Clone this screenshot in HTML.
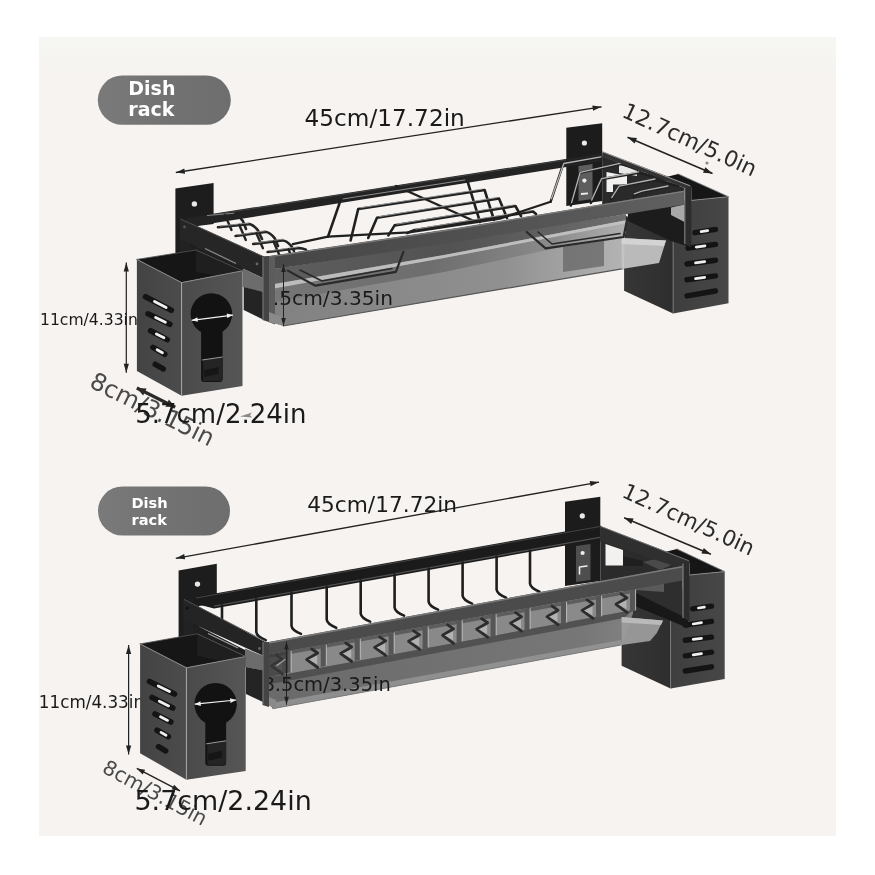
<!DOCTYPE html>
<html lang="en"><head><meta charset="utf-8"><title>Dish rack dimensions</title>
<style>
html,body{margin:0;padding:0;background:#fff;}
body{width:875px;height:875px;overflow:hidden;}
svg{display:block;will-change:transform;transform:translateZ(0);}
text{font-family:"DejaVu Sans","Liberation Sans",sans-serif;}
.b{font-family:"DejaVu Sans","Liberation Sans",sans-serif;font-weight:700;fill:#fff;}
</style></head><body>
<svg width="875" height="875" viewBox="0 0 875 875">
<defs>
<linearGradient id="gPanel" x1="0" y1="0" x2="0" y2="1"><stop offset="0" stop-color="#f6f7f2"/><stop offset="0.05" stop-color="#f6f3f1"/><stop offset="1" stop-color="#f6f3f1"/></linearGradient>
<linearGradient id="gPill" x1="0" y1="0" x2="1" y2="0"><stop offset="0" stop-color="#7a7a7a"/><stop offset="0.45" stop-color="#737373"/><stop offset="1" stop-color="#6e6e6e"/></linearGradient>
<linearGradient id="gLeft" x1="0" y1="0" x2="1" y2="0"><stop offset="0" stop-color="#434343"/><stop offset="1" stop-color="#4c4c4c"/></linearGradient>
<linearGradient id="gFront" x1="0" y1="0" x2="1" y2="0"><stop offset="0" stop-color="#4a4a4a"/><stop offset="1" stop-color="#565656"/></linearGradient>
<linearGradient id="gRF" x1="0" y1="0" x2="1" y2="0"><stop offset="0" stop-color="#363636"/><stop offset="1" stop-color="#2e2e2e"/></linearGradient>
<linearGradient id="gRR" x1="0" y1="0" x2="1" y2="0"><stop offset="0" stop-color="#3e3e3e"/><stop offset="1" stop-color="#474747"/></linearGradient>
<linearGradient id="gRail" x1="0" y1="0" x2="0" y2="1"><stop offset="0" stop-color="#6a6a6a"/><stop offset="0.25" stop-color="#444"/><stop offset="1" stop-color="#383838"/></linearGradient>
</defs>
<rect width="875" height="875" fill="#ffffff"/>
<rect x="39" y="37" width="797" height="799" fill="url(#gPanel)"/>

<rect x="97.8" y="75.5" width="133" height="49.3" rx="24.6" fill="url(#gPill)"/>
<text class="b" x="128.3" y="94.8" font-size="19">Dish</text>
<text class="b" x="128.3" y="115.5" font-size="19">rack</text>
<rect x="98" y="486.5" width="132" height="49" rx="24.5" fill="url(#gPill)"/>
<text class="b" x="131.5" y="508.3" font-size="14.6">Dish</text>
<text class="b" x="131.5" y="524.7" font-size="14.6">rack</text>
<g id="top">
<polygon points="175.4,188.6 213.6,182.9 213.6,224.0 197.0,226.0 197.0,252.0 175.4,255.0" fill="#1d1d1d" />
<circle cx="194.4" cy="203.9" r="2.7" fill="#ebe9e6"/>
<polygon points="566.3,127.8 602.2,123.2 602.2,201.0 566.3,206.0" fill="#1c1c1c" />
<polygon points="578.5,166.0 592.5,164.0 592.5,199.0 578.5,201.0" fill="#5e5e5e" />
<circle cx="584.4" cy="143" r="2.6" fill="#ebe9e6"/>
<circle cx="584.4" cy="180.6" r="2.1" fill="#eee"/>
<line x1="581.0" y1="194.0" x2="588.0" y2="193.3" stroke="#eee" stroke-width="1.8" />
<polygon points="186.0,218.0 602.5,153.2 602.5,161.2 200.0,225.3 186.0,227.5" fill="#232323" />
<line x1="214.0" y1="214.6" x2="566.0" y2="159.9" stroke="#4a4a4a" stroke-width="0.8" />
<polygon points="678.2,174.0 728.5,196.7 691.3,200.4 691.3,187.4 666.2,177.0" fill="#161616" />
<polygon points="624.1,215.0 673.1,238.0 673.1,313.4 624.1,290.8" fill="url(#gRF)" />
<polygon points="673.1,238.0 691.3,200.4 728.5,196.7 728.5,303.3 673.1,313.4" fill="url(#gRR)" />
<line x1="673.1" y1="238.0" x2="673.1" y2="313.4" stroke="#7a7a7a" stroke-width="0.9" />
<polyline points="678.2,174.0 728.5,196.7" fill="none" stroke="#777" stroke-width="0.9" stroke-linejoin="round" stroke-linecap="round" />
<line x1="691.3" y1="200.4" x2="728.5" y2="196.7" stroke="#8a8a8a" stroke-width="0.9" />
<line x1="695.0" y1="232.7" x2="715.5" y2="229.4" stroke="#141414" stroke-width="5.4" stroke-linecap="round"/>
<line x1="701.1" y1="231.7" x2="707.7" y2="230.7" stroke="#f2f0ee" stroke-width="2.7" stroke-linecap="round"/>
<line x1="688.0" y1="248.2" x2="715.5" y2="244.4" stroke="#141414" stroke-width="5.4" stroke-linecap="round"/>
<line x1="696.2" y1="247.1" x2="705.0" y2="245.8" stroke="#f2f0ee" stroke-width="2.7" stroke-linecap="round"/>
<line x1="687.0" y1="264.0" x2="715.5" y2="260.2" stroke="#141414" stroke-width="5.4" stroke-linecap="round"/>
<line x1="695.5" y1="262.9" x2="704.7" y2="261.6" stroke="#f2f0ee" stroke-width="2.7" stroke-linecap="round"/>
<line x1="687.0" y1="279.8" x2="715.5" y2="275.9" stroke="#141414" stroke-width="5.4" stroke-linecap="round"/>
<line x1="695.5" y1="278.6" x2="704.7" y2="277.4" stroke="#f2f0ee" stroke-width="2.7" stroke-linecap="round"/>
<line x1="687.0" y1="295.9" x2="715.5" y2="291.0" stroke="#141414" stroke-width="5.4" stroke-linecap="round"/>
<polygon points="602.2,156.0 684.5,188.0 684.5,192.0 602.2,205.0" fill="#2a2a2a" />
<polygon points="606.5,172.0 627.0,176.0 627.0,184.5 613.0,184.5 613.0,192.0 606.5,192.0" fill="#f3f1ef" />
<polygon points="619.0,164.0 637.0,171.0 637.0,176.0 619.0,173.0" fill="#e9e7e5" />
<polyline points="396.0,186.0 474.0,221.0" fill="none" stroke="#202020" stroke-width="2.4" stroke-linejoin="round" stroke-linecap="round" />
<polyline points="328.0,236.7 340.6,200.2 467.4,180.9 480.0,222.0" fill="none" stroke="#202020" stroke-width="2.6" stroke-linejoin="round" stroke-linecap="round" />
<line x1="342.6" y1="199.0" x2="465.4" y2="179.9" stroke="#9a9a9a" stroke-width="0.9" />
<polyline points="350.6,240.5 358.2,209.0 484.6,190.0 494.0,220.0" fill="none" stroke="#202020" stroke-width="2.6" stroke-linejoin="round" stroke-linecap="round" />
<line x1="360.2" y1="207.8" x2="482.6" y2="189.0" stroke="#9a9a9a" stroke-width="0.9" />
<polyline points="368.2,238.0 377.0,217.8 499.0,198.5 507.0,218.0" fill="none" stroke="#202020" stroke-width="2.6" stroke-linejoin="round" stroke-linecap="round" />
<line x1="379.0" y1="216.6" x2="497.0" y2="197.5" stroke="#9a9a9a" stroke-width="0.9" />
<polyline points="388.4,235.4 394.6,225.4 515.4,206.0 521.0,216.0" fill="none" stroke="#202020" stroke-width="2.6" stroke-linejoin="round" stroke-linecap="round" />
<line x1="396.6" y1="224.2" x2="513.4" y2="205.0" stroke="#9a9a9a" stroke-width="0.9" />
<polyline points="407.2,233.0 413.5,230.4 533.0,211.5 536.0,214.0" fill="none" stroke="#202020" stroke-width="2.6" stroke-linejoin="round" stroke-linecap="round" />
<line x1="415.5" y1="229.2" x2="531.0" y2="210.5" stroke="#9a9a9a" stroke-width="0.9" />
<polyline points="292.8,244.2 328.0,236.7 409.0,232.3 500.0,218.6 550.6,201.8" fill="none" stroke="#202020" stroke-width="2.2" stroke-linejoin="round" stroke-linecap="round" />
<polyline points="550.6,201.8 563.2,164.1 601.0,157.8" fill="none" stroke="#202020" stroke-width="2.4" stroke-linejoin="round" stroke-linecap="round" />
<polyline points="570.8,205.6 579.6,172.9 621.0,164.1 650.0,172.0" fill="none" stroke="#202020" stroke-width="2.4" stroke-linejoin="round" stroke-linecap="round" />
<polyline points="590.9,203.1 601.0,179.2 638.6,172.9 668.0,180.0" fill="none" stroke="#202020" stroke-width="2.4" stroke-linejoin="round" stroke-linecap="round" />
<polyline points="611.0,200.6 618.5,186.7 655.0,180.0 678.0,186.0" fill="none" stroke="#202020" stroke-width="2.4" stroke-linejoin="round" stroke-linecap="round" />
<polyline points="633.6,196.8 641.2,191.8 668.0,187.0" fill="none" stroke="#202020" stroke-width="2.4" stroke-linejoin="round" stroke-linecap="round" />
<polyline points="551.4,198.8 563.8,163.5 601.0,156.8" fill="none" stroke="#b2b2b2" stroke-width="1.3" stroke-linejoin="round" stroke-linecap="round" />
<polyline points="571.6,202.6 580.2,172.3 621.0,163.1" fill="none" stroke="#b2b2b2" stroke-width="1.3" stroke-linejoin="round" stroke-linecap="round" />
<polyline points="591.7,200.1 601.6,178.6 638.6,171.9" fill="none" stroke="#b2b2b2" stroke-width="1.3" stroke-linejoin="round" stroke-linecap="round" />
<polyline points="611.8,197.6 619.1,186.1 655.0,179.0" fill="none" stroke="#b2b2b2" stroke-width="1.3" stroke-linejoin="round" stroke-linecap="round" />
<polyline points="634.4,193.8 641.8,191.2 668.0,186.0" fill="none" stroke="#b2b2b2" stroke-width="1.3" stroke-linejoin="round" stroke-linecap="round" />
<path d="M205.0 216.6 L233.2 214.6 Q237.2 214.1 242.8 220.8 L246.0 229.0" fill="none" stroke="#242424" stroke-width="2.6" stroke-linecap="round"/>
<line x1="207.0" y1="215.5" x2="234.2" y2="213.2" stroke="#8f8f8f" stroke-width="0.9" />
<polyline points="225.0,215.0 231.5,230.0" fill="none" stroke="#242424" stroke-width="2.4" stroke-linejoin="round" stroke-linecap="round" />
<path d="M218.0 227.2 L248.4 224.2 Q252.4 223.7 258.0 230.4 L262.0 239.0" fill="none" stroke="#242424" stroke-width="2.6" stroke-linecap="round"/>
<line x1="220.0" y1="226.1" x2="249.4" y2="222.8" stroke="#8f8f8f" stroke-width="0.9" />
<polyline points="239.3,225.0 245.8,240.0" fill="none" stroke="#242424" stroke-width="2.4" stroke-linejoin="round" stroke-linecap="round" />
<path d="M235.6 236.0 L265.2 232.0 Q269.2 231.5 274.8 238.4 L278.0 246.0" fill="none" stroke="#242424" stroke-width="2.6" stroke-linecap="round"/>
<line x1="237.6" y1="234.9" x2="266.2" y2="230.6" stroke="#8f8f8f" stroke-width="0.9" />
<polyline points="256.4,233.2 262.9,248.2" fill="none" stroke="#242424" stroke-width="2.4" stroke-linejoin="round" stroke-linecap="round" />
<path d="M253.2 244.0 L282.0 240.5 Q286.0 240.0 291.6 246.4 L294.0 251.0" fill="none" stroke="#242424" stroke-width="2.6" stroke-linecap="round"/>
<line x1="255.2" y1="242.9" x2="283.0" y2="239.1" stroke="#8f8f8f" stroke-width="0.9" />
<polyline points="273.5,241.5 280.0,256.5" fill="none" stroke="#242424" stroke-width="2.4" stroke-linejoin="round" stroke-linecap="round" />
<path d="M267.6 252.0 L297.2 248.2 Q301.2 247.7 306.0 249.6 L306.0 249.6" fill="none" stroke="#242424" stroke-width="2.6" stroke-linecap="round"/>
<line x1="269.6" y1="250.9" x2="298.2" y2="246.8" stroke="#8f8f8f" stroke-width="0.9" />
<polyline points="288.4,249.3 294.9,264.3" fill="none" stroke="#242424" stroke-width="2.4" stroke-linejoin="round" stroke-linecap="round" />
<polygon points="602.5,151.5 691.3,185.5 691.3,190.5 602.5,156.5" fill="#333" />
<line x1="603.0" y1="152.0" x2="690.0" y2="185.8" stroke="#9a9a9a" stroke-width="1.0" />
<polygon points="627.9,207.0 684.5,200.0 687.6,204.5 690.0,247.0 671.0,241.0 627.9,221.0" fill="#1c1c1c" />
<polygon points="671.0,207.5 684.5,204.5 684.5,222.0 671.0,215.0" fill="#a8a8a8" />
<linearGradient id="gTrayT" gradientUnits="userSpaceOnUse" x1="270" y1="0" x2="660" y2="0"><stop offset="0" stop-color="#7c7c7c"/><stop offset="0.6" stop-color="#8c8c8c"/><stop offset="1" stop-color="#bcbcbc"/></linearGradient>
<polygon points="268.0,270.0 626.0,214.2 623.4,268.6 283.0,326.0 268.0,320.0" fill="url(#gTrayT)" opacity="0.96"/>
<linearGradient id="gB1" gradientUnits="userSpaceOnUse" x1="268" y1="0" x2="626" y2="0"><stop offset="0" stop-color="#5c5c5c"/><stop offset="0.5" stop-color="#4e4e4e"/><stop offset="1" stop-color="#686868"/></linearGradient>
<polygon points="268.0,270.0 626.0,214.2 626.0,220.2 444.0,255.0 268.0,285.0" fill="url(#gB1)" opacity="0.93"/>
<linearGradient id="gB2" gradientUnits="userSpaceOnUse" x1="268" y1="0" x2="626" y2="0"><stop offset="0" stop-color="#757575"/><stop offset="0.45" stop-color="#6a6a6a"/><stop offset="0.8" stop-color="#8a8a8a"/><stop offset="1" stop-color="#b0b0b0"/></linearGradient>
<polygon points="270.0,288.7 444.0,258.0 626.0,223.2 626.0,233.2 444.0,272.0 270.0,302.7" fill="url(#gB2)" opacity="0.9"/>
<polygon points="270.0,284.7 444.0,255.0 626.0,220.2 626.0,223.2 444.0,258.0 270.0,289.2" fill="#c2c2c2" opacity="0.9"/>
<line x1="283.0" y1="326.0" x2="623.4" y2="268.6" stroke="#555" stroke-width="1.2" />
<polygon points="563.0,247.0 604.0,240.5 604.0,266.0 563.0,272.0" fill="#666" opacity="0.75"/>
<polygon points="621.6,238.0 666.0,240.5 659.0,263.0 621.6,269.0" fill="#c6c6c6" opacity="0.92"/>
<polygon points="621.6,238.0 666.0,240.5 664.0,246.0 621.6,244.0" fill="#d6d6d6" opacity="0.9"/>
<polyline points="287.8,270.6 315.4,285.7 395.9,271.9 403.4,251.8" fill="none" stroke="#2a2a2a" stroke-width="2.2" stroke-linejoin="round" stroke-linecap="round" />
<polyline points="300.0,270.0 322.0,281.0 392.0,268.5" fill="none" stroke="#2a2a2a" stroke-width="1.6" stroke-linejoin="round" stroke-linecap="round" />
<polyline points="526.7,232.0 545.6,248.4 623.6,237.0 627.3,218.2" fill="none" stroke="#2a2a2a" stroke-width="2.2" stroke-linejoin="round" stroke-linecap="round" />
<polyline points="538.0,232.0 552.0,244.0 620.0,233.5" fill="none" stroke="#2a2a2a" stroke-width="1.6" stroke-linejoin="round" stroke-linecap="round" />
<text x="40.0" y="325.0" font-size="15.6" fill="#1a1a1a" >11cm/4.33in</text>
<text x="260.0" y="305.3" font-size="20.2" fill="#1a1a1a" >8.5cm/3.35in</text>
<linearGradient id="gFR" gradientUnits="userSpaceOnUse" x1="264" y1="0" x2="685" y2="0"><stop offset="0" stop-color="#464646"/><stop offset="0.5" stop-color="#505050"/><stop offset="1" stop-color="#606060"/></linearGradient>
<polygon points="264.0,256.8 460.0,227.6 684.5,190.6 684.5,204.5 460.0,241.6 264.0,270.6" fill="url(#gFR)" />
<polyline points="265.0,257.5 460.0,228.3 684.0,191.4" fill="none" stroke="#7c7c7c" stroke-width="1.2" stroke-linejoin="round" stroke-linecap="round" />
<polygon points="180.0,218.3 264.0,256.5 264.0,278.5 180.0,239.3" fill="#262626" />
<line x1="180.5" y1="219.0" x2="264.0" y2="257.0" stroke="#555" stroke-width="0.9" />
<polygon points="180.0,239.0 190.0,243.5 190.0,252.0 180.0,252.0" fill="#222" />
<circle cx="184.5" cy="227" r="1.4" fill="#555"/><circle cx="257" cy="264" r="1.4" fill="#666"/>
<polygon points="190.0,243.5 244.0,268.5 244.0,272.0 196.0,250.0 190.0,250.0" fill="#1f1f1f" />
<line x1="205.0" y1="248.5" x2="236.0" y2="263.5" stroke="#8c8c8c" stroke-width="1.2" />
<polygon points="242.6,268.5 264.0,278.5 264.0,292.0 242.6,287.0" fill="#6c6c6c" />
<polygon points="243.7,287.0 264.0,292.0 264.0,320.0 243.7,310.0" fill="#242424" />
<polygon points="268.5,257.0 275.0,256.0 275.0,324.5 268.5,322.0" fill="#5c5c5c" />
<polygon points="262.5,256.5 269.0,256.0 269.0,322.0 262.5,320.0" fill="#444" />
<line x1="263.0" y1="257.0" x2="263.0" y2="320.0" stroke="#8a8a8a" stroke-width="0.8" />
<polygon points="269.0,312.0 284.0,318.0 284.0,326.0 269.0,322.0" fill="#8a8a8a" />
<polygon points="136.9,259.4 196.0,250.0 242.5,270.8 181.6,282.6" fill="#161616" />
<polygon points="196.0,250.0 242.5,270.8 239.5,279.8 196.0,272.0" fill="#1f1f1f" />
<polygon points="136.9,259.4 181.6,282.6 181.6,395.8 136.9,371.0" fill="url(#gLeft)" />
<polygon points="181.6,282.6 242.5,270.8 242.5,386.0 181.6,395.8" fill="url(#gFront)" />
<polyline points="136.9,259.4 181.6,282.6 242.5,270.8" fill="none" stroke="#8a8a8a" stroke-width="1.0" stroke-linejoin="round" stroke-linecap="round" />
<polyline points="136.9,259.4 196.0,250.0 242.5,270.8" fill="none" stroke="#555" stroke-width="0.8" stroke-linejoin="round" stroke-linecap="round" />
<line x1="181.6" y1="282.6" x2="181.6" y2="395.8" stroke="#a8a8a8" stroke-width="1.0" />
<line x1="145.5" y1="296.8" x2="171.3" y2="310.3" stroke="#141414" stroke-width="5.6" stroke-linecap="round"/>
<line x1="154.5" y1="301.5" x2="166.1" y2="307.6" stroke="#f2f0ee" stroke-width="2.8" stroke-linecap="round"/>
<line x1="148.0" y1="313.8" x2="169.8" y2="324.3" stroke="#141414" stroke-width="5.6" stroke-linecap="round"/>
<line x1="155.6" y1="317.5" x2="165.4" y2="322.2" stroke="#f2f0ee" stroke-width="2.8" stroke-linecap="round"/>
<line x1="150.6" y1="330.8" x2="167.2" y2="339.6" stroke="#141414" stroke-width="5.6" stroke-linecap="round"/>
<line x1="156.4" y1="333.9" x2="163.9" y2="337.8" stroke="#f2f0ee" stroke-width="2.8" stroke-linecap="round"/>
<line x1="153.0" y1="347.4" x2="164.8" y2="354.2" stroke="#141414" stroke-width="5.6" stroke-linecap="round"/>
<line x1="157.1" y1="349.8" x2="162.4" y2="352.8" stroke="#f2f0ee" stroke-width="2.8" stroke-linecap="round"/>
<line x1="155.3" y1="364.3" x2="163.2" y2="368.9" stroke="#141414" stroke-width="5.6" stroke-linecap="round"/>
<circle cx="211.4" cy="314.0" r="20.8" fill="#121212"/>
<path d="M201.1 314.0 V379.0 Q201.1 382.0 204.1 382.0 H219.6 Q222.6 382.0 222.6 379.0 V314.0 Z" fill="#121212"/>
<path d="M203.1 360.0 L222.6 357.0 V378.0 Q222.6 381.0 219.6 381.0 H203.1 Z" fill="#242424"/>
<line x1="202.1" y1="360.0" x2="222.6" y2="357.0" stroke="#9a9a9a" stroke-width="1.0" />
<polygon points="204.1,370.0 218.6,367.0 218.6,374.0 204.1,377.0" fill="#161616" />
<line x1="191.7" y1="320.3" x2="232.9" y2="315.1" stroke="#f0f0f0" stroke-width="1.2" />
<polygon points="191.7,320.3 197.9,321.8 197.4,317.3" fill="#f0f0f0" />
<polygon points="232.9,315.1 227.2,318.1 226.7,313.6" fill="#f0f0f0" />
<polygon points="684.5,188.5 691.3,186.9 691.3,247.2 684.5,244.0" fill="#2c2c2c" />
<line x1="684.8" y1="189.0" x2="684.8" y2="244.0" stroke="#999" stroke-width="0.9" />
<line x1="283.5" y1="264.0" x2="283.5" y2="326.0" stroke="#222" stroke-width="1.0" />
<polygon points="283.5,264.0 281.2,272.0 285.8,272.0" fill="#222" />
<polygon points="283.5,326.0 281.2,318.0 285.8,318.0" fill="#222" />
<line x1="175.8" y1="172.5" x2="601.6" y2="106.8" stroke="#222" stroke-width="1.3" />
<polygon points="175.8,172.5 185.1,173.7 184.3,168.6" fill="#222" />
<polygon points="601.6,106.8 593.1,110.7 592.3,105.6" fill="#222" />
<line x1="627.5" y1="137.3" x2="712.5" y2="173.5" stroke="#222" stroke-width="1.5" />
<polygon points="627.5,137.3 634.6,143.6 637.0,138.1" fill="#222" />
<polygon points="712.5,173.5 703.0,172.7 705.4,167.2" fill="#222" />
<line x1="126.3" y1="262.6" x2="126.3" y2="372.8" stroke="#222" stroke-width="1.2" />
<polygon points="126.3,262.6 123.7,271.6 128.9,271.6" fill="#222" />
<polygon points="126.3,372.8 123.7,363.8 128.9,363.8" fill="#222" />
<line x1="136.8" y1="388.0" x2="175.2" y2="407.2" stroke="#2a2a2a" stroke-width="3.2" />
<polygon points="136.8,388.0 143.1,395.6 146.6,388.4" fill="#2a2a2a" />
<polygon points="175.2,407.2 165.4,406.8 168.9,399.6" fill="#2a2a2a" />
<text x="304.6" y="126.3" font-size="23.2" fill="#1a1a1a" >45cm/17.72in</text>
<text x="620.8" y="116.3" font-size="22.0" fill="#2b2b2b" transform="rotate(24.7 620.8 116.3)" >12.7cm/5.0in</text>
<text x="88.2" y="386.6" font-size="24.0" fill="#4a4a4a" transform="rotate(26.4 88.2 386.6)" >8cm/3.15in</text>
<text x="135.2" y="423.2" font-size="26.0" fill="#1a1a1a" >5.7cm/2.24in</text>
<polygon points="240.0,416.5 252.0,412.5 250.0,415.0 252.0,417.5" fill="#8a8a8a" />
<circle cx="707" cy="163" r="1.6" fill="#8a8a8a"/>
</g>
<g id="bottom">
<polygon points="178.6,570.4 216.8,563.7 216.8,603.0 199.0,606.0 199.0,634.0 178.6,640.0" fill="#1d1d1d" />
<circle cx="197.5" cy="584.1" r="2.7" fill="#ebe9e6"/>
<polygon points="565.0,501.8 600.3,496.8 600.3,581.0 565.0,586.0" fill="#1c1c1c" />
<polygon points="576.0,546.0 590.5,544.0 590.5,580.0 576.0,582.0" fill="#4e4e4e" />
<circle cx="582.3" cy="515.9" r="2.6" fill="#ebe9e6"/>
<circle cx="582.6" cy="553" r="2.1" fill="#eee"/>
<polyline points="579.5,574.0 579.5,567.0 587.0,566.0" fill="none" stroke="#eee" stroke-width="1.6" stroke-linejoin="round" stroke-linecap="round" />
<polygon points="193.8,597.2 600.4,525.2 600.4,539.2 214.0,608.4 193.8,603.2" fill="#1b1b1b" />
<line x1="196.0" y1="598.0" x2="600.0" y2="526.5" stroke="#444" stroke-width="1.0" />
<line x1="214.0" y1="606.1" x2="600.0" y2="537.3" stroke="#505050" stroke-width="1.2" />
<path d="M222.0 605.2 V625.2 q0.5 4.5 9.5 8" fill="none" stroke="#1e1e1e" stroke-width="2.6" stroke-linecap="round"/>
<path d="M256.3 599.1 V632.1 q0.5 4.5 9.5 8" fill="none" stroke="#1e1e1e" stroke-width="2.6" stroke-linecap="round"/>
<path d="M291.5 592.9 V625.9 q0.5 4.5 9.5 8" fill="none" stroke="#1e1e1e" stroke-width="2.6" stroke-linecap="round"/>
<path d="M326.7 586.7 V619.7 q0.5 4.5 9.5 8" fill="none" stroke="#1e1e1e" stroke-width="2.6" stroke-linecap="round"/>
<path d="M360.7 580.6 V613.6 q0.5 4.5 9.5 8" fill="none" stroke="#1e1e1e" stroke-width="2.6" stroke-linecap="round"/>
<path d="M394.6 574.6 V607.6 q0.5 4.5 9.5 8" fill="none" stroke="#1e1e1e" stroke-width="2.6" stroke-linecap="round"/>
<path d="M428.6 568.6 V601.6 q0.5 4.5 9.5 8" fill="none" stroke="#1e1e1e" stroke-width="2.6" stroke-linecap="round"/>
<path d="M462.6 562.6 V595.6 q0.5 4.5 9.5 8" fill="none" stroke="#1e1e1e" stroke-width="2.6" stroke-linecap="round"/>
<path d="M496.6 556.6 V589.6 q0.5 4.5 9.5 8" fill="none" stroke="#1e1e1e" stroke-width="2.6" stroke-linecap="round"/>
<path d="M530.0 550.7 V583.7 q0.5 4.5 9.5 8" fill="none" stroke="#1e1e1e" stroke-width="2.6" stroke-linecap="round"/>
<polygon points="676.9,549.0 724.7,571.6 689.5,575.0 689.5,562.0 664.9,552.0" fill="#161616" />
<polygon points="621.6,592.0 670.6,612.0 670.6,688.4 621.6,665.7" fill="url(#gRF)" />
<polygon points="670.6,612.0 689.5,575.0 724.7,571.6 724.7,679.0 670.6,688.4" fill="url(#gRR)" />
<line x1="670.6" y1="612.0" x2="670.6" y2="688.4" stroke="#7a7a7a" stroke-width="0.9" />
<polyline points="676.9,549.0 724.7,571.6" fill="none" stroke="#777" stroke-width="0.9" stroke-linejoin="round" stroke-linecap="round" />
<line x1="689.5" y1="575.0" x2="724.7" y2="571.6" stroke="#8a8a8a" stroke-width="0.9" />
<line x1="692.8" y1="608.8" x2="711.5" y2="606.1" stroke="#141414" stroke-width="5.4" stroke-linecap="round"/>
<line x1="698.4" y1="608.0" x2="704.4" y2="607.1" stroke="#f2f0ee" stroke-width="2.7" stroke-linecap="round"/>
<line x1="685.3" y1="625.1" x2="711.5" y2="621.3" stroke="#141414" stroke-width="5.4" stroke-linecap="round"/>
<line x1="693.2" y1="624.0" x2="701.5" y2="622.7" stroke="#f2f0ee" stroke-width="2.7" stroke-linecap="round"/>
<line x1="685.3" y1="640.3" x2="711.5" y2="637.1" stroke="#141414" stroke-width="5.4" stroke-linecap="round"/>
<line x1="693.2" y1="639.3" x2="701.5" y2="638.3" stroke="#f2f0ee" stroke-width="2.7" stroke-linecap="round"/>
<line x1="685.3" y1="655.9" x2="711.5" y2="652.2" stroke="#141414" stroke-width="5.4" stroke-linecap="round"/>
<line x1="693.2" y1="654.8" x2="701.5" y2="653.6" stroke="#f2f0ee" stroke-width="2.7" stroke-linecap="round"/>
<line x1="685.3" y1="671.0" x2="711.5" y2="666.8" stroke="#141414" stroke-width="5.4" stroke-linecap="round"/>
<polygon points="600.3,528.0 689.0,562.0 683.0,566.0 600.3,585.0" fill="#2b2b2b" />
<polygon points="605.5,544.0 623.0,550.0 623.0,565.5 605.5,565.5" fill="#f3f1ef" />
<polygon points="623.0,556.5 643.0,561.0 643.0,566.0 623.0,566.0" fill="#1f1f1f" />
<polygon points="643.0,562.0 660.0,558.0 676.0,563.0 660.0,570.0" fill="#4a4a4a" />
<polygon points="600.2,525.9 689.5,560.6 689.5,564.0 678.2,567.5 604.5,542.5 600.2,542.0" fill="#2f2f2f" />
<line x1="601.0" y1="526.5" x2="689.0" y2="560.8" stroke="#777" stroke-width="0.9" />
<polygon points="624.0,576.0 682.7,566.0 682.7,618.0 630.0,592.0 624.0,592.0" fill="#2e2e2e" />
<polygon points="635.0,583.0 664.0,578.0 664.0,592.0 635.0,590.0" fill="#5a5a5a" />
<polygon points="630.0,590.0 688.0,619.0 688.0,628.0 630.0,604.0" fill="#181818" />
<linearGradient id="gTrayB" gradientUnits="userSpaceOnUse" x1="270" y1="0" x2="660" y2="0"><stop offset="0" stop-color="#666"/><stop offset="0.8" stop-color="#737373"/><stop offset="1" stop-color="#848484"/></linearGradient>
<polygon points="268.0,654.5 633.0,589.4 633.0,613.4 621.0,645.0 272.7,708.7 268.0,702.0" fill="url(#gTrayB)" opacity="0.97"/>
<polygon points="268.0,654.5 633.0,589.4 633.0,609.9 268.0,677.5" fill="#8a8a8a" opacity="0.96"/>
<polygon points="268.0,654.5 633.0,589.4 633.0,592.9 268.0,658.0" fill="#4a4a4a" opacity="0.7"/>
<polygon points="268.0,677.5 633.0,609.9 624.0,618.0 268.0,684.5" fill="#4e4e4e" opacity="0.92"/>
<polygon points="285.5,651.3 291.0,650.3 291.0,672.3 285.5,673.3" fill="#565656" />
<line x1="291.1" y1="650.8" x2="291.1" y2="671.8" stroke="#c4c4c4" stroke-width="0.9" />
<polyline points="276.5,655.3 282.5,659.3 271.5,665.8 282.5,673.8" fill="none" stroke="#2c2c2c" stroke-width="2.8" stroke-linejoin="round" stroke-linecap="round" />
<polygon points="273.5,665.8 282.0,661.8 282.0,670.8" fill="#b8b8b8" opacity="0.85"/>
<polygon points="320.7,645.1 326.2,644.1 326.2,666.1 320.7,667.1" fill="#565656" />
<line x1="326.3" y1="644.6" x2="326.3" y2="665.6" stroke="#c4c4c4" stroke-width="0.9" />
<polyline points="311.7,649.0 317.7,653.0 306.7,659.5 317.7,667.5" fill="none" stroke="#2c2c2c" stroke-width="2.8" stroke-linejoin="round" stroke-linecap="round" />
<polygon points="308.7,659.5 317.2,655.5 317.2,664.5" fill="#b8b8b8" opacity="0.85"/>
<polygon points="354.7,639.0 360.2,638.0 360.2,660.0 354.7,661.0" fill="#565656" />
<line x1="360.3" y1="638.5" x2="360.3" y2="659.5" stroke="#c4c4c4" stroke-width="0.9" />
<polyline points="345.7,643.0 351.7,647.0 340.7,653.5 351.7,661.5" fill="none" stroke="#2c2c2c" stroke-width="2.8" stroke-linejoin="round" stroke-linecap="round" />
<polygon points="342.7,653.5 351.2,649.5 351.2,658.5" fill="#b8b8b8" opacity="0.85"/>
<polygon points="388.6,632.9 394.1,631.9 394.1,653.9 388.6,654.9" fill="#565656" />
<line x1="394.2" y1="632.4" x2="394.2" y2="653.4" stroke="#c4c4c4" stroke-width="0.9" />
<polyline points="379.6,636.9 385.6,640.9 374.6,647.4 385.6,655.4" fill="none" stroke="#2c2c2c" stroke-width="2.8" stroke-linejoin="round" stroke-linecap="round" />
<polygon points="376.6,647.4 385.1,643.4 385.1,652.4" fill="#b8b8b8" opacity="0.85"/>
<polygon points="422.6,626.9 428.1,625.9 428.1,647.9 422.6,648.9" fill="#565656" />
<line x1="428.2" y1="626.4" x2="428.2" y2="647.4" stroke="#c4c4c4" stroke-width="0.9" />
<polyline points="413.6,630.8 419.6,634.8 408.6,641.3 419.6,649.3" fill="none" stroke="#2c2c2c" stroke-width="2.8" stroke-linejoin="round" stroke-linecap="round" />
<polygon points="410.6,641.3 419.1,637.3 419.1,646.3" fill="#b8b8b8" opacity="0.85"/>
<polygon points="456.6,620.8 462.1,619.8 462.1,641.8 456.6,642.8" fill="#565656" />
<line x1="462.2" y1="620.3" x2="462.2" y2="641.3" stroke="#c4c4c4" stroke-width="0.9" />
<polyline points="447.6,624.8 453.6,628.8 442.6,635.3 453.6,643.3" fill="none" stroke="#2c2c2c" stroke-width="2.8" stroke-linejoin="round" stroke-linecap="round" />
<polygon points="444.6,635.3 453.1,631.3 453.1,640.3" fill="#b8b8b8" opacity="0.85"/>
<polygon points="490.6,614.8 496.1,613.8 496.1,635.8 490.6,636.8" fill="#565656" />
<line x1="496.2" y1="614.3" x2="496.2" y2="635.3" stroke="#c4c4c4" stroke-width="0.9" />
<polyline points="481.6,618.7 487.6,622.7 476.6,629.2 487.6,637.2" fill="none" stroke="#2c2c2c" stroke-width="2.8" stroke-linejoin="round" stroke-linecap="round" />
<polygon points="478.6,629.2 487.1,625.2 487.1,634.2" fill="#b8b8b8" opacity="0.85"/>
<polygon points="524.5,608.7 530.0,607.7 530.0,629.7 524.5,630.7" fill="#565656" />
<line x1="530.1" y1="608.2" x2="530.1" y2="629.2" stroke="#c4c4c4" stroke-width="0.9" />
<polyline points="515.5,612.7 521.5,616.7 510.5,623.2 521.5,631.2" fill="none" stroke="#2c2c2c" stroke-width="2.8" stroke-linejoin="round" stroke-linecap="round" />
<polygon points="512.5,623.2 521.0,619.2 521.0,628.2" fill="#b8b8b8" opacity="0.85"/>
<polygon points="561.0,602.2 566.5,601.2 566.5,623.2 561.0,624.2" fill="#565656" />
<line x1="566.6" y1="601.7" x2="566.6" y2="622.7" stroke="#c4c4c4" stroke-width="0.9" />
<polyline points="552.0,606.2 558.0,610.2 547.0,616.7 558.0,624.7" fill="none" stroke="#2c2c2c" stroke-width="2.8" stroke-linejoin="round" stroke-linecap="round" />
<polygon points="549.0,616.7 557.5,612.7 557.5,621.7" fill="#b8b8b8" opacity="0.85"/>
<polygon points="596.0,595.9 601.5,594.9 601.5,616.9 596.0,617.9" fill="#565656" />
<line x1="601.6" y1="595.4" x2="601.6" y2="616.4" stroke="#c4c4c4" stroke-width="0.9" />
<polyline points="587.0,599.9 593.0,603.9 582.0,610.4 593.0,618.4" fill="none" stroke="#2c2c2c" stroke-width="2.8" stroke-linejoin="round" stroke-linecap="round" />
<polygon points="584.0,610.4 592.5,606.4 592.5,615.4" fill="#b8b8b8" opacity="0.85"/>
<polygon points="630.0,589.9 635.5,588.9 635.5,610.9 630.0,611.9" fill="#565656" />
<line x1="635.6" y1="589.4" x2="635.6" y2="610.4" stroke="#c4c4c4" stroke-width="0.9" />
<polyline points="621.0,593.8 627.0,597.8 616.0,604.3 627.0,612.3" fill="none" stroke="#2c2c2c" stroke-width="2.8" stroke-linejoin="round" stroke-linecap="round" />
<polygon points="618.0,604.3 626.5,600.3 626.5,609.3" fill="#b8b8b8" opacity="0.85"/>
<polygon points="272.7,702.7 621.0,640.0 621.0,645.0 272.7,708.7" fill="#9a9a9a" opacity="0.75"/>
<line x1="272.7" y1="708.7" x2="621.0" y2="645.0" stroke="#777" stroke-width="0.9" />
<polygon points="269.0,654.3 288.0,650.9 288.0,672.9 269.0,677.3" fill="#383838" opacity="0.78"/>
<polyline points="277.0,665.4 285.0,659.5" fill="none" stroke="#9a9a9a" stroke-width="1.4" stroke-linejoin="round" stroke-linecap="round" />
<polygon points="621.6,617.0 663.0,620.5 656.8,633.0 650.0,641.0 621.6,645.0" fill="#9c9c9c" opacity="0.95"/>
<polygon points="621.6,617.0 663.0,620.5 661.0,625.0 621.6,622.5" fill="#bdbdbd" opacity="0.9"/>
<text x="38.8" y="707.5" font-size="16.8" fill="#1a1a1a" >11cm/4.33in</text>
<text x="262.4" y="690.9" font-size="19.5" fill="#1a1a1a" >8.5cm/3.35in</text>
<polygon points="266.0,642.6 682.7,565.9 682.7,580.5 266.0,654.9" fill="#4b4b4b" />
<line x1="267.0" y1="643.2" x2="682.0" y2="566.8" stroke="#7a7a7a" stroke-width="1.5" />
<polygon points="183.4,598.6 266.0,642.4 266.0,657.0 183.4,619.5" fill="#242424" />
<line x1="184.0" y1="599.4" x2="266.0" y2="641.6" stroke="#555" stroke-width="0.9" />
<polygon points="183.4,619.0 193.0,623.5 193.0,634.5 183.4,636.0" fill="#222" />
<circle cx="187.3" cy="608" r="1.6" fill="#111"/><circle cx="259.5" cy="648.5" r="1.4" fill="#666"/>
<polygon points="193.0,623.5 247.0,651.0 247.0,657.0 197.2,633.8 193.0,634.0" fill="#1f1f1f" />
<line x1="208.0" y1="633.5" x2="238.0" y2="648.0" stroke="#9a9a9a" stroke-width="1.3" />
<polygon points="245.0,648.5 266.0,657.0 266.0,671.0 245.0,667.0" fill="#6c6c6c" />
<polygon points="246.0,667.0 266.0,671.0 266.0,703.5 246.0,694.0" fill="#242424" />
<polygon points="262.5,642.2 269.0,641.9 269.0,707.0 262.5,705.0" fill="#444" />
<line x1="263.0" y1="642.0" x2="263.0" y2="704.0" stroke="#8a8a8a" stroke-width="0.8" />
<polygon points="269.0,697.0 276.0,700.0 276.0,707.5 269.0,706.0" fill="#8a8a8a" />
<polygon points="140.1,643.9 197.2,633.8 245.7,656.5 186.4,667.8" fill="#161616" />
<polygon points="197.2,633.8 245.7,656.5 242.7,665.5 197.2,655.8" fill="#1f1f1f" />
<polygon points="140.1,643.9 186.4,667.8 186.4,779.7 140.1,753.3" fill="url(#gLeft)" />
<polygon points="186.4,667.8 245.7,656.5 245.7,770.9 186.4,779.7" fill="url(#gFront)" />
<polyline points="140.1,643.9 186.4,667.8 245.7,656.5" fill="none" stroke="#8a8a8a" stroke-width="1.0" stroke-linejoin="round" stroke-linecap="round" />
<polyline points="140.1,643.9 197.2,633.8 245.7,656.5" fill="none" stroke="#555" stroke-width="0.8" stroke-linejoin="round" stroke-linecap="round" />
<line x1="186.4" y1="667.8" x2="186.4" y2="779.7" stroke="#a8a8a8" stroke-width="1.0" />
<line x1="149.5" y1="681.5" x2="174.5" y2="694.0" stroke="#141414" stroke-width="5.6" stroke-linecap="round"/>
<line x1="158.2" y1="685.9" x2="169.5" y2="691.5" stroke="#f2f0ee" stroke-width="2.8" stroke-linecap="round"/>
<line x1="152.0" y1="697.5" x2="172.8" y2="708.0" stroke="#141414" stroke-width="5.6" stroke-linecap="round"/>
<line x1="159.3" y1="701.2" x2="168.6" y2="705.9" stroke="#f2f0ee" stroke-width="2.8" stroke-linecap="round"/>
<line x1="155.0" y1="714.0" x2="170.8" y2="722.0" stroke="#141414" stroke-width="5.6" stroke-linecap="round"/>
<line x1="160.5" y1="716.8" x2="167.6" y2="720.4" stroke="#f2f0ee" stroke-width="2.8" stroke-linecap="round"/>
<line x1="157.0" y1="730.2" x2="168.3" y2="736.6" stroke="#141414" stroke-width="5.6" stroke-linecap="round"/>
<line x1="161.0" y1="732.4" x2="166.0" y2="735.3" stroke="#f2f0ee" stroke-width="2.8" stroke-linecap="round"/>
<line x1="158.5" y1="746.6" x2="165.6" y2="750.8" stroke="#141414" stroke-width="5.6" stroke-linecap="round"/>
<circle cx="215.6" cy="704.2" r="21.2" fill="#121212"/>
<path d="M205.3 704.2 V762.8 Q205.3 765.8 208.3 765.8 H223.1 Q226.1 765.8 226.1 762.8 V704.2 Z" fill="#121212"/>
<path d="M207.3 743.8 L226.1 740.8 V761.8 Q226.1 764.8 223.1 764.8 H207.3 Z" fill="#242424"/>
<line x1="206.3" y1="743.8" x2="226.1" y2="740.8" stroke="#9a9a9a" stroke-width="1.0" />
<polygon points="208.3,753.8 222.1,750.8 222.1,757.8 208.3,760.8" fill="#161616" />
<line x1="194.7" y1="704.2" x2="236.2" y2="700.0" stroke="#f0f0f0" stroke-width="1.2" />
<polygon points="194.7,704.2 200.9,705.9 200.4,701.3" fill="#f0f0f0" />
<polygon points="236.2,700.0 230.5,702.9 230.0,698.3" fill="#f0f0f0" />
<polygon points="682.7,563.0 689.5,561.8 689.5,620.9 682.7,618.0" fill="#2c2c2c" />
<line x1="683.0" y1="563.5" x2="683.0" y2="618.0" stroke="#999" stroke-width="0.9" />
<line x1="286.5" y1="641.5" x2="286.5" y2="704.7" stroke="#222" stroke-width="1.0" />
<polygon points="286.5,641.5 284.2,649.5 288.8,649.5" fill="#222" />
<polygon points="286.5,704.7 284.2,696.7 288.8,696.7" fill="#222" />
<line x1="175.8" y1="558.3" x2="599.0" y2="482.1" stroke="#222" stroke-width="1.3" />
<polygon points="175.8,558.3 185.1,559.3 184.2,554.1" fill="#222" />
<polygon points="599.0,482.1 590.6,486.3 589.7,481.1" fill="#222" />
<line x1="624.1" y1="517.8" x2="710.9" y2="554.3" stroke="#222" stroke-width="1.5" />
<polygon points="624.1,517.8 631.2,524.1 633.6,518.5" fill="#222" />
<polygon points="710.9,554.3 701.4,553.6 703.8,548.0" fill="#222" />
<line x1="128.6" y1="645.1" x2="128.6" y2="754.5" stroke="#222" stroke-width="1.2" />
<polygon points="128.6,645.1 126.0,654.1 131.2,654.1" fill="#222" />
<polygon points="128.6,754.5 126.0,745.5 131.2,745.5" fill="#222" />
<line x1="136.8" y1="768.4" x2="180.0" y2="790.8" stroke="#222" stroke-width="1.4" />
<polygon points="136.8,768.4 142.7,774.4 145.1,769.8" fill="#222" />
<polygon points="180.0,790.8 171.7,789.4 174.1,784.8" fill="#222" />
<text x="307.2" y="511.5" font-size="21.7" fill="#1a1a1a" >45cm/17.72in</text>
<text x="620.8" y="496.4" font-size="21.6" fill="#2b2b2b" transform="rotate(24.7 620.8 496.4)" >12.7cm/5.0in</text>
<text x="101.0" y="771.8" font-size="20.4" fill="#4a4a4a" transform="rotate(28.2 101.0 771.8)" >8cm/3.15in</text>
<text x="134.5" y="809.6" font-size="26.9" fill="#1a1a1a" >5.7cm/2.24in</text>
</g>
</svg></body></html>
